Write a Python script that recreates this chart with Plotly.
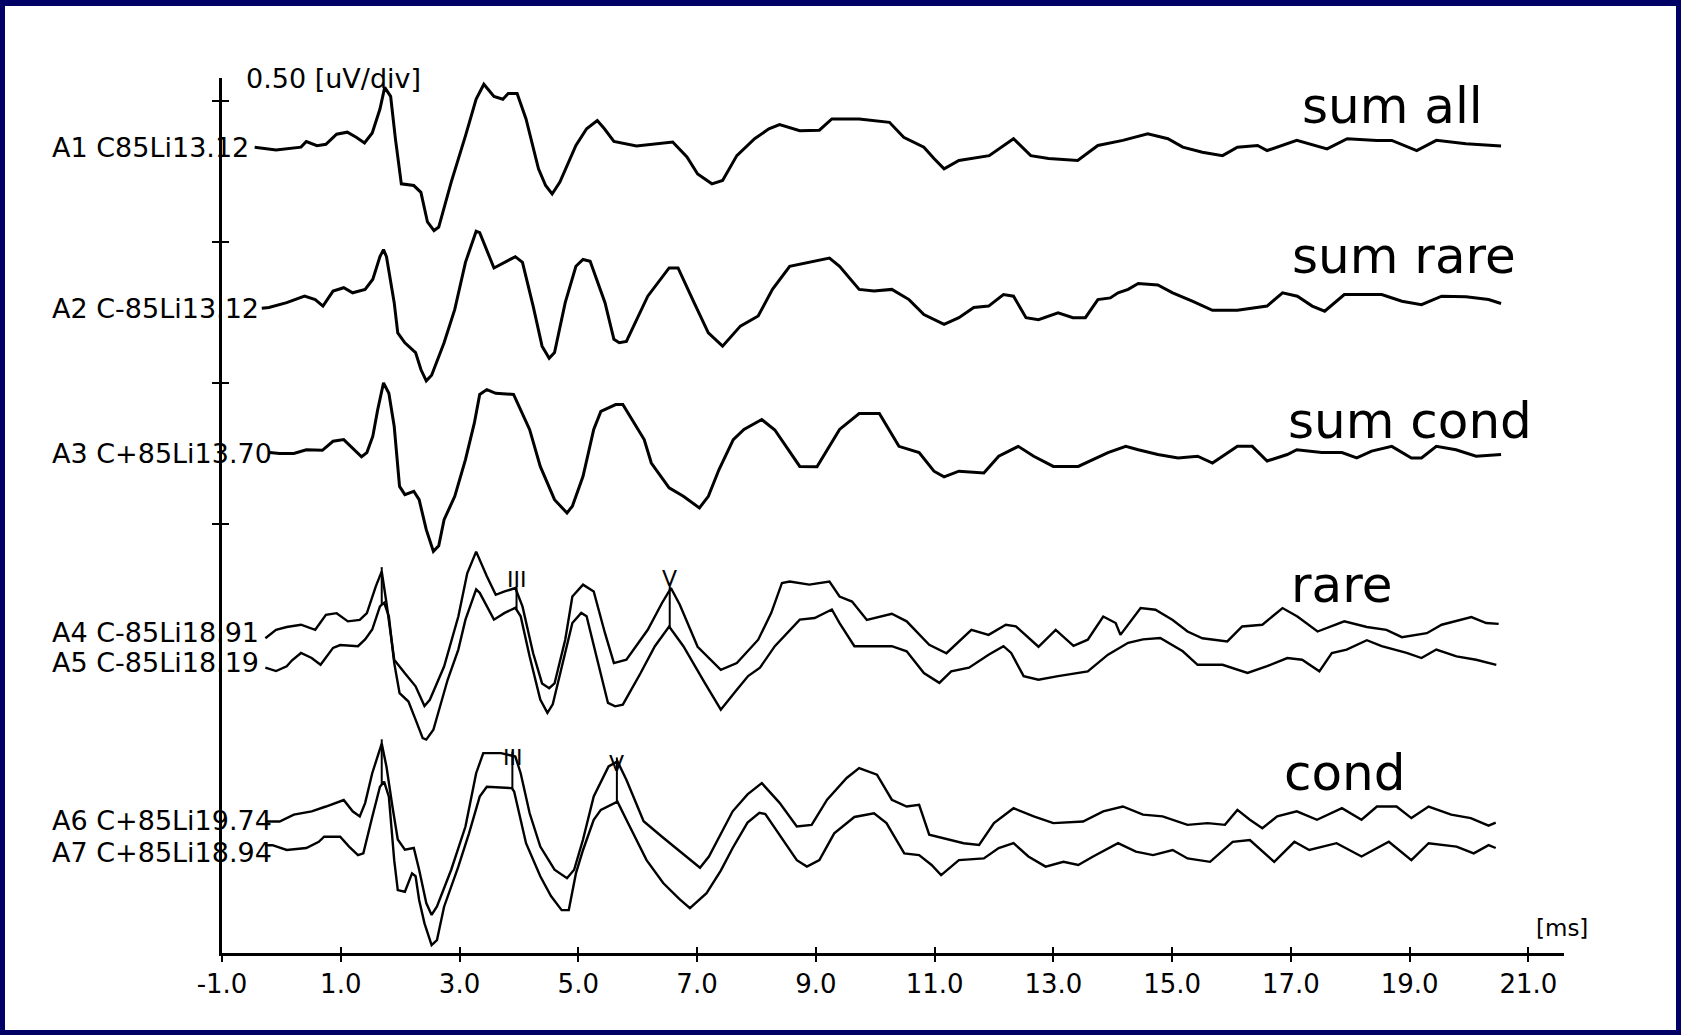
import numpy as np
import plotly.graph_objects as go

# ---------------- data: (time ms, amplitude uV relative to trace baseline) ----------------
A1 = [(-0.45,0),(-0.09,-0.01),(0.33,0.0),(0.42,0.02),(0.60,0.005),(0.75,0.01),(0.93,0.046),(1.11,0.053),
      (1.26,0.035),(1.40,0.015),(1.53,0.05),(1.66,0.135),(1.74,0.212),(1.84,0.18),(1.92,0.03),(2.02,-0.13),
      (2.23,-0.136),(2.35,-0.16),(2.46,-0.265),(2.57,-0.296),(2.65,-0.283),(2.86,-0.124),(3.10,0.04),(3.28,0.17),
      (3.41,0.223),(3.58,0.18),(3.73,0.17),(3.82,0.19),(3.97,0.19),(4.12,0.10),(4.33,-0.077),(4.45,-0.136),
      (4.56,-0.166),(4.69,-0.124),(4.96,0.006),(5.14,0.065),(5.32,0.094),(5.44,0.065),(5.60,0.02),(5.98,0.004),
      (6.59,0.018),(6.83,-0.035),(7.01,-0.095),(7.25,-0.13),(7.43,-0.118),(7.67,-0.03),(7.97,0.03),(8.21,0.065),
      (8.39,0.08),(8.73,0.058),(9.06,0.06),(9.27,0.10),(9.73,0.10),(9.98,0.094),(10.24,0.088),(10.48,0.035),
      (10.82,0.0),(10.99,-0.04),(11.16,-0.077),(11.41,-0.047),(11.92,-0.03),(12.33,0.03),(12.62,-0.03),(12.92,-0.04),
      (13.41,-0.047),(13.75,0.006),(14.17,0.024),(14.59,0.047),(14.93,0.03),(15.18,0.0),(15.51,-0.018),(15.85,-0.03),
      (16.10,0.0),(16.44,0.006),(16.60,-0.012),(17.10,0.024),(17.61,-0.006),(17.95,0.03),(18.45,0.024),(18.70,0.024),
      (19.12,-0.012),(19.45,0.024),(19.95,0.012),(20.54,0.004)]

A2 = [(-0.33,-0.003),(-0.21,0),(0.09,0.017),(0.39,0.04),(0.57,0.028),(0.70,0.005),(0.87,0.058),(1.05,0.07),
      (1.20,0.052),(1.41,0.064),(1.54,0.10),(1.66,0.18),(1.72,0.205),(1.77,0.18),(1.90,0.017),(1.96,-0.09),
      (2.08,-0.125),(2.26,-0.16),(2.35,-0.22),(2.44,-0.26),(2.53,-0.24),(2.74,-0.125),(2.92,-0.007),(3.10,0.16),
      (3.28,0.27),(3.34,0.265),(3.58,0.14),(3.76,0.16),(3.94,0.18),(4.06,0.16),(4.24,0.005),(4.39,-0.137),
      (4.51,-0.18),(4.60,-0.16),(4.78,0.017),(4.96,0.146),(5.08,0.17),(5.20,0.164),(5.45,0.017),(5.60,-0.113),
      (5.69,-0.125),(5.81,-0.12),(6.17,0.04),(6.53,0.14),(6.68,0.14),(6.95,0.017),(7.19,-0.09),(7.43,-0.137),
      (7.73,-0.066),(8.03,-0.03),(8.27,0.064),(8.56,0.146),(8.89,0.16),(9.23,0.175),(9.40,0.146),(9.73,0.064),
      (9.98,0.058),(10.28,0.064),(10.57,0.028),(10.82,-0.025),(11.16,-0.06),(11.41,-0.036),(11.66,0),(11.91,0.005),
      (12.16,0.046),(12.33,0.04),(12.54,-0.036),(12.75,-0.043),(13.08,-0.019),(13.33,-0.036),(13.54,-0.036),
      (13.75,0.028),(13.96,0.034),(14.09,0.052),(14.26,0.064),(14.43,0.085),(14.76,0.08),(15.01,0.052),(15.35,0.022),
      (15.68,-0.01),(16.10,-0.01),(16.44,0),(16.60,0.005),(16.86,0.052),(17.11,0.04),(17.36,0.005),(17.57,-0.013),
      (17.90,0.046),(18.53,0.046),(18.87,0.022),(19.20,0.01),(19.54,0.04),(19.95,0.038),(20.33,0.028),(20.54,0.014)]

A3 = [(-0.2,0),(-0.03,-0.003),(0.21,-0.003),(0.42,0.01),(0.69,0.008),(0.87,0.04),(1.05,0.046),(1.20,0.017),
      (1.35,-0.015),(1.44,0),(1.54,0.058),(1.62,0.15),(1.72,0.247),(1.81,0.21),(1.90,0.093),(1.99,-0.12),
      (2.08,-0.149),(2.23,-0.137),(2.32,-0.167),(2.44,-0.273),(2.56,-0.35),(2.65,-0.33),(2.74,-0.238),(2.92,-0.155),
      (3.10,-0.025),(3.25,0.105),(3.34,0.206),(3.46,0.223),(3.61,0.21),(3.91,0.206),(4.00,0.164),(4.18,0.082),
      (4.36,-0.049),(4.60,-0.167),(4.81,-0.214),(4.90,-0.19),(5.08,-0.084),(5.26,0.082),(5.38,0.146),(5.63,0.17),
      (5.75,0.17),(5.93,0.11),(6.11,0.046),(6.23,-0.037),(6.53,-0.125),(6.77,-0.155),(7.04,-0.196),(7.19,-0.155),
      (7.37,-0.06),(7.61,0.046),(7.79,0.082),(8.09,0.117),(8.31,0.08),(8.73,-0.049),(9.02,-0.05),(9.40,0.082),
      (9.73,0.138),(10.07,0.138),(10.40,0.022),(10.74,0),(10.99,-0.066),(11.16,-0.086),(11.41,-0.066),(11.83,-0.072),
      (12.08,-0.013),(12.41,0.022),(12.67,-0.013),(13.00,-0.049),(13.42,-0.049),(13.92,0),(14.22,0.022),(14.43,0.01),
      (14.76,-0.007),(15.10,-0.019),(15.43,-0.013),(15.68,-0.037),(16.10,0.022),(16.35,0.022),(16.60,-0.03),
      (16.94,-0.007),(17.10,0.01),(17.52,0),(17.86,0),(18.11,-0.019),(18.36,0.005),(18.70,0.022),(19.03,-0.019),
      (19.20,-0.019),(19.45,0.022),(19.78,0.01),(20.12,-0.013),(20.54,-0.007)]

A4 = [(-0.27,-0.03),(-0.09,0),(0.09,0.01),(0.33,0.018),(0.57,0),(0.75,0.053),(0.93,0.059),(1.12,0.03),
      (1.32,0.035),(1.44,0.059),(1.59,0.154),(1.69,0.207),(1.77,0.095),(1.90,-0.106),(2.08,-0.154),(2.26,-0.20),
      (2.41,-0.27),(2.50,-0.248),(2.74,-0.13),(2.98,0.047),(3.13,0.20),(3.28,0.277),(3.46,0.19),(3.61,0.124),
      (3.76,0.136),(3.94,0.148),(4.06,0.083),(4.24,-0.083),(4.39,-0.19),(4.51,-0.207),(4.60,-0.19),(4.78,-0.035),
      (4.90,0.118),(5.08,0.16),(5.26,0.136),(5.45,-0.012),(5.60,-0.118),(5.81,-0.106),(6.17,0),(6.41,0.095),
      (6.56,0.148),(6.71,0.089),(7.01,-0.06),(7.40,-0.142),(7.67,-0.118),(8.03,-0.035),(8.25,0.06),(8.43,0.166),
      (8.56,0.171),(8.89,0.16),(9.23,0.171),(9.40,0.118),(9.61,0.10),(9.86,0.035),(10.28,0.057),(10.53,0.03),
      (10.91,-0.053),(11.20,-0.083),(11.62,0),(11.91,-0.018),(12.20,0.018),(12.37,0.012),(12.75,-0.06),(13.04,0),
      (13.34,-0.057),(13.58,-0.035),(13.84,0.047),(14.05,0.024),(14.13,-0.018),(14.47,0.077),(14.72,0.071),
      (15.01,0.035),(15.26,-0.006),(15.51,-0.03),(15.93,-0.041),(16.18,0.012),(16.52,0.018),(16.86,0.077),
      (17.11,0.047),(17.45,-0.006),(17.90,0.03),(18.28,0.01),(18.61,0),(18.87,-0.026),(19.29,-0.012),(19.54,0.018),
      (20.04,0.045),(20.29,0.024),(20.50,0.021)]

A5 = [(-0.27,0),(-0.09,-0.012),(0.09,0.005),(0.18,0.026),(0.33,0.052),(0.51,0.034),(0.66,0.01),(0.87,0.07),
      (0.99,0.08),(1.29,0.076),(1.41,0.1),(1.53,0.135),(1.66,0.217),(1.73,0.23),(1.81,0.182),(1.90,0.017),
      (1.99,-0.09),(2.14,-0.12),(2.26,-0.184),(2.38,-0.25),(2.44,-0.255),(2.56,-0.22),(2.80,-0.043),(2.98,0.064),
      (3.10,0.17),(3.28,0.277),(3.34,0.265),(3.58,0.17),(3.76,0.194),(3.94,0.212),(4.03,0.182),(4.18,0.04),
      (4.36,-0.113),(4.48,-0.16),(4.57,-0.13),(4.72,0.005),(4.90,0.158),(5.05,0.194),(5.14,0.182),(5.32,0.028),
      (5.50,-0.125),(5.62,-0.137),(5.75,-0.131),(6.05,-0.019),(6.29,0.076),(6.53,0.146),(6.77,0.076),(7.13,-0.054),
      (7.40,-0.149),(7.67,-0.078),(7.86,-0.03),(8.06,0.0),(8.31,0.076),(8.73,0.17),(8.98,0.176),(9.27,0.206),
      (9.40,0.158),(9.65,0.076),(10.28,0.076),(10.53,0.058),(10.82,-0.019),(11.08,-0.054),(11.28,-0.013),(11.58,0),
      (11.91,0.046),(12.16,0.076),(12.29,0.052),(12.50,-0.03),(12.75,-0.043),(13.08,-0.03),(13.58,-0.013),
      (13.92,0.046),(14.26,0.088),(14.51,0.1),(14.80,0.105),(15.18,0.058),(15.43,0.01),(15.85,0.01),(16.27,-0.019),
      (16.60,0.005),(16.94,0.034),(17.19,0.028),(17.48,-0.013),(17.69,0.052),(17.94,0.064),(18.28,0.097),
      (18.53,0.076),(18.95,0.052),(19.20,0.034),(19.45,0.064),(19.79,0.04),(20.12,0.028),(20.46,0.01)]

A6 = [(-0.27,-0.006),(-0.03,-0.006),(0.21,0.018),(0.51,0.03),(0.75,0.047),(1.05,0.07),(1.20,0.03),(1.32,0.012),
      (1.41,0.059),(1.53,0.165),(1.69,0.27),(1.77,0.188),(1.87,0.047),(1.96,-0.07),(2.08,-0.106),(2.23,-0.10),
      (2.32,-0.177),(2.44,-0.295),(2.53,-0.337),(2.62,-0.307),(2.86,-0.177),(3.10,-0.024),(3.28,0.165),(3.40,0.236),
      (3.70,0.236),(3.94,0.224),(4.03,0.165),(4.18,0.024),(4.36,-0.095),(4.60,-0.177),(4.81,-0.207),(4.93,-0.177),
      (5.08,-0.07),(5.26,0.083),(5.51,0.189),(5.66,0.207),(5.81,0.142),(6.10,-0.005),(6.41,-0.06),(6.71,-0.11),
      (6.95,-0.15),(7.05,-0.17),(7.20,-0.13),(7.35,-0.07),(7.60,0.03),(7.85,0.09),(8.09,0.13),(8.39,0.06),
      (8.68,-0.024),(8.93,-0.018),(9.19,0.071),(9.52,0.148),(9.73,0.183),(10.03,0.16),(10.28,0.071),(10.53,0.047),
      (10.74,0.053),(10.91,-0.053),(11.24,-0.07),(11.49,-0.083),(11.75,-0.089),(12.00,-0.012),(12.33,0.041),
      (12.67,0.012),(13.00,-0.012),(13.50,-0.006),(13.84,0.03),(14.17,0.047),(14.51,0.018),(14.84,0.012),
      (15.26,-0.018),(15.60,-0.012),(15.89,-0.018),(16.10,0.035),(16.31,0),(16.52,-0.03),(16.77,0.012),(17.10,0.03),
      (17.44,0),(17.86,0.041),(18.19,0),(18.45,0.047),(18.78,0.047),(19.03,0.006),(19.32,0.047),(19.70,0.018),
      (20.03,0.006),(20.33,-0.021),(20.45,-0.01)]

A7 = [(-0.27,0.01),(-0.15,0.01),(0.09,-0.007),(0.42,0),(0.63,0.022),(0.72,0.04),(0.99,0.04),(1.14,0.005),
      (1.29,-0.025),(1.38,-0.019),(1.53,0.11),(1.66,0.217),(1.73,0.235),(1.81,0.182),(1.90,-0.043),(1.96,-0.149),
      (2.08,-0.155),(2.20,-0.09),(2.26,-0.10),(2.32,-0.184),(2.41,-0.267),(2.53,-0.344),(2.62,-0.326),(2.74,-0.208),
      (2.98,-0.066),(3.16,0.052),(3.34,0.182),(3.46,0.217),(3.88,0.212),(3.92,0.20),(4.12,0.017),(4.36,-0.10),
      (4.54,-0.17),(4.72,-0.22),(4.84,-0.22),(4.96,-0.09),(5.08,-0.007),(5.26,0.10),(5.38,0.135),(5.66,0.164),
      (5.81,0.10),(6.15,-0.043),(6.43,-0.124),(6.70,-0.18),(6.88,-0.213),(7.16,-0.16),(7.40,-0.08),(7.60,0.0),
      (7.85,0.09),(8.05,0.125),(8.15,0.12),(8.39,0.045),(8.68,-0.043),(8.85,-0.066),(9.06,-0.043),(9.31,0.052),
      (9.65,0.11),(9.98,0.123),(10.19,0.088),(10.49,-0.019),(10.74,-0.025),(10.95,-0.06),(11.11,-0.096),(11.41,-0.043),
      (11.83,-0.037),(12.08,0),(12.33,0.017),(12.58,-0.03),(12.87,-0.066),(13.17,-0.049),(13.42,-0.06),(13.67,-0.03),
      (14.09,0.017),(14.39,-0.013),(14.68,-0.025),(15.01,-0.007),(15.26,-0.037),(15.64,-0.049),(16.02,0.022),
      (16.31,0.028),(16.72,-0.049),(17.06,0.022),(17.31,-0.007),(17.77,0.017),(18.19,-0.03),(18.65,0.022),
      (19.03,-0.043),(19.32,0.017),(19.79,0.005),(20.08,-0.019),(20.33,0.01),(20.45,0)]

traces = [A1, A2, A3, A4, A5, A6, A7]
trace_labels = ["A1 C85Li13.12", "A2 C-85Li13.12", "A3 C+85Li13.70", "A4 C-85Li18.91",
                "A5 C-85Li18.19", "A6 C+85Li19.74", "A7 C+85Li18.94"]
baseline_uv = [2.835, 2.267, 1.753, 1.125, 0.991, 0.452, 0.352]
line_widths = [3.0, 3.0, 3.0, 2.4, 2.4, 2.4, 2.4]

group_labels = ["sum all", "sum rare", "sum cond", "rare", "cond"]

rare_peak_ms = [1.69, 3.96, 6.54]
rare_peak_names = ["", "III", "V"]
cond_peak_ms = [1.69, 3.89, 5.65]
cond_peak_names = ["", "III", "V"]

x_tick_vals = [-1, 1, 3, 5, 7, 9, 11, 13, 15, 17, 19, 21]
x_tick_text = ["-1.0", "1.0", "3.0", "5.0", "7.0", "9.0", "11.0", "13.0", "15.0", "17.0", "19.0", "21.0"]
y_tick_vals = [1.5, 2.0, 2.5, 3.0]

# ---------------- layout geometry ----------------
W, H = 1681, 1035
ML, MR, MT, MB = 222, 117, 78, 82
XR = [-1.0, 21.6]
YR = [-0.02, 3.08]
PW, PH = W - ML - MR, H - MT - MB


def px_x(px):
    return (px - ML) / PW


def px_y(py):
    return (H - MB - py) / PH


FONT = "DejaVu Sans, Verdana, sans-serif"

fig = go.Figure()

absolute = []
for pts, base, lw in zip(traces, baseline_uv, line_widths):
    t = np.array([p[0] for p in pts])
    v = np.array([p[1] for p in pts]) + base
    absolute.append((t, v))
    fig.add_trace(go.Scatter(x=t, y=v, mode="lines", line=dict(color="black", width=lw),
                             hoverinfo="skip", showlegend=False))

annotations = []


def add_peaks(upper, lower, peaks, names, text_offset):
    xs, ys = [], []
    tu, vu = absolute[upper]
    tl, vl = absolute[lower]
    for pk, nm in zip(peaks, names):
        a = float(np.interp(pk, tu, vu))
        b = float(np.interp(pk, tl, vl))
        xs += [pk, pk, None]
        ys += [a + 0.015, b, None]
        if nm:
            annotations.append(dict(x=pk, y=a + text_offset, xref="x", yref="y", text=nm, showarrow=False,
                                    xanchor="center", yanchor="middle",
                                    font=dict(family=FONT, size=22, color="black")))
    fig.add_trace(go.Scatter(x=xs, y=ys, mode="lines", line=dict(color="black", width=2.0),
                             hoverinfo="skip", showlegend=False))


add_peaks(3, 4, rare_peak_ms, rare_peak_names, 0.04)
add_peaks(5, 6, cond_peak_ms, cond_peak_names, -0.005)

# companion (empty) trace so that the crossing-tick axes are drawn
fig.add_trace(go.Scatter(x=[None], y=[None], xaxis="x2", yaxis="y2", mode="lines",
                         hoverinfo="skip", showlegend=False))

# trace labels on the left
label_y_px = [148, 308, 453, 632, 662, 820, 852]
for txt, py in zip(trace_labels, label_y_px):
    annotations.append(dict(x=px_x(50), y=px_y(py), xref="paper", yref="paper", text=txt, showarrow=False,
                            xanchor="left", yanchor="middle",
                            font=dict(family=FONT, size=27, color="black")))

# group labels
group_pos = [(1392, 106), (1404, 256), (1410, 421), (1341, 585), (1345, 773)]
for txt, (px, py) in zip(group_labels, group_pos):
    annotations.append(dict(x=px_x(px), y=px_y(py), xref="paper", yref="paper", text=txt, showarrow=False,
                            xanchor="center", yanchor="middle",
                            font=dict(family=FONT, size=50, color="black")))

annotations.append(dict(x=px_x(244), y=px_y(79), xref="paper", yref="paper", text="0.50 [uV/div]",
                        showarrow=False, xanchor="left", yanchor="middle",
                        font=dict(family=FONT, size=27, color="black")))
annotations.append(dict(x=px_x(1562), y=px_y(928), xref="paper", yref="paper", text="[ms]",
                        showarrow=False, xanchor="center", yanchor="middle",
                        font=dict(family=FONT, size=23, color="black")))

shapes = [dict(type="rect", xref="paper", yref="paper", layer="below",
               x0=px_x(5), x1=px_x(W - 5), y0=px_y(H - 5), y1=px_y(6),
               fillcolor="white", line=dict(width=0))]

fig.update_layout(
    width=W, height=H,
    margin=dict(l=ML, r=MR, t=MT, b=MB, pad=0),
    paper_bgcolor="#000066",
    plot_bgcolor="white",
    showlegend=False,
    annotations=annotations,
    shapes=shapes,
    xaxis=dict(range=XR, showgrid=False, zeroline=False, showline=True, linecolor="black", linewidth=2.5,
               ticks="outside", ticklen=6, tickwidth=2, tickcolor="black",
               tickvals=x_tick_vals, ticktext=x_tick_text, ticklabelstandoff=0,
               tickfont=dict(family=FONT, size=26, color="black")),
    yaxis=dict(range=YR, showgrid=False, zeroline=False, showline=True, linecolor="black", linewidth=2.5,
               ticks="outside", ticklen=7, tickwidth=2, tickcolor="black",
               tickvals=y_tick_vals, showticklabels=False),
    # companion axes so that the tick marks cross the axis lines
    xaxis2=dict(range=XR, overlaying="x", side="bottom", showgrid=False, zeroline=False, showline=False,
                ticks="inside", ticklen=6, tickwidth=2, tickcolor="black", tickvals=x_tick_vals,
                showticklabels=False),
    yaxis2=dict(range=YR, overlaying="y", side="left", showgrid=False, zeroline=False, showline=False,
                ticks="inside", ticklen=7, tickwidth=2, tickcolor="black", tickvals=y_tick_vals,
                showticklabels=False),
)

fig.write_html("out.html", config={"displayModeBar": False},
               post_script="document.body.style.margin='0px';document.body.style.background='#000066';")
